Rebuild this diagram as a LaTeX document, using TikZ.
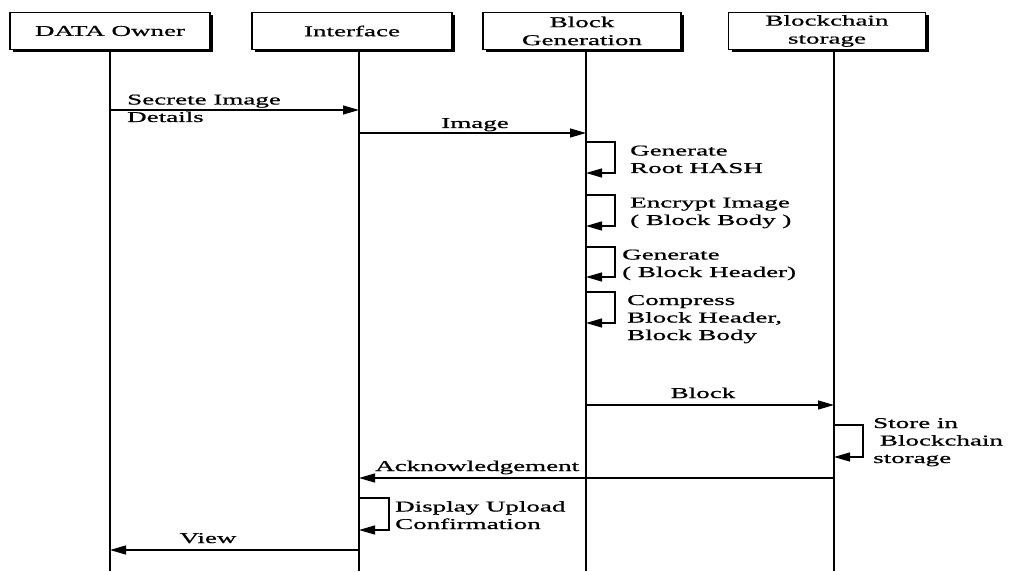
\documentclass[tikz,border=0pt]{standalone}
\usepackage{fontspec}
\setmainfont{Liberation Serif}[FakeStretch=1.8,FakeBold=0.8]
\usetikzlibrary{arrows.meta,shadows}
\begin{document}
\begin{tikzpicture}[x=1pt,y=-1pt,
  actor/.style={draw, line width=1.4pt, fill=white, minimum height=37pt,
    inner sep=0pt, align=center, font=\fontsize{15}{18}\selectfont,
    drop shadow={shadow xshift=3pt, shadow yshift=-3pt, opacity=1, fill=black}},
  life/.style={line width=2.2pt},
  msg/.style={line width=1.2pt, -{Triangle[length=16pt,width=9pt]}},
  lbl/.style={font=\fontsize{15}{17.5}\selectfont, inner sep=0pt, align=left},
]
\useasboundingbox[fill=white] (0,0) rectangle (1009,572);

% participants
\node[actor, minimum width=200pt] (b1) at (110,31) {DATA Owner};
\node[actor, minimum width=200pt] (b2) at (352,31) {Interface};
\node[actor, minimum width=198pt] (b3) at (582,31) {Block\\Generation};
\node[actor, minimum width=197pt] (b4) at (827,31) {Blockchain\\storage};

% lifelines
\coordinate (L1) at (110,571);
\coordinate (L2) at (359,571);
\coordinate (L3) at (586,571);
\coordinate (L4) at (834,571);
\draw[life] (b1.south -| L1) -- (L1);
\draw[life] (b2.south -| L2) -- (L2);
\draw[life] (b3.south -| L3) -- (L3);
\draw[life] (b4.south -| L4) -- (L4);

% message end points
\coordinate (m1s) at (110,110); \coordinate (m1e) at (359,110);
\coordinate (m2s) at (359,133); \coordinate (m2e) at (586,133);
\coordinate (m3s) at (586,405); \coordinate (m3e) at (834,405);
\coordinate (m4s) at (834,478); \coordinate (m4e) at (359,478);
\coordinate (m5s) at (359,550); \coordinate (m5e) at (110,550);

\draw[msg] (m1s) -- (m1e);
\draw[msg] (m2s) -- (m2e);
\draw[msg] (m3s) -- (m3e);
\draw[msg] (m4s) -- (m4e);
\draw[msg] (m5s) -- (m5e);

% labels are anchored at the baseline of their last line
\node[lbl, anchor=base west] (t1) at (127,122) {Secrete Image\\Details};
\node[lbl, anchor=base] (t2) at (475,128) {Image};
\node[lbl, anchor=base] (t3) at (703,398) {Block};
\node[lbl, anchor=base west] (t4) at (375,471) {Acknowledgement};
\node[lbl, anchor=base] (t5) at (208,543) {View};

% self calls
\coordinate (s1t) at (586,142); \coordinate (s1b) at (586,173);
\coordinate (s2t) at (586,195); \coordinate (s2b) at (586,226);
\coordinate (s3t) at (586,247); \coordinate (s3b) at (586,277);
\coordinate (s4t) at (586,292); \coordinate (s4b) at (586,323);
\coordinate (s5t) at (834,425); \coordinate (s5b) at (834,457);
\coordinate (s6t) at (359,498); \coordinate (s6b) at (359,530);

\draw[msg] (s1t) -- ++(29,0) |- (s1b);
\draw[msg] (s2t) -- ++(29,0) |- (s2b);
\draw[msg] (s3t) -- ++(29,0) |- (s3b);
\draw[msg] (s4t) -- ++(29,0) |- (s4b);
\draw[msg] (s5t) -- ++(29,0) |- (s5b);
\draw[msg] (s6t) -- ++(30,0) |- (s6b);

\node[lbl, anchor=base west] (u1) at (630,173) {Generate\\Root HASH};
\node[lbl, anchor=base west] (u2) at (630,225) {Encrypt Image\\( Block Body )};
\node[lbl, anchor=base west] (u3) at (622,277) {Generate\\( Block Header)};
\node[lbl, anchor=base west] (u4) at (627,340) {Compress\\Block Header,\\Block Body};
\node[lbl, anchor=base west] (u5) at (873,463) {Store in\\\ Blockchain\\storage};
\node[lbl, anchor=base west] (u6) at (395,529) {Display Upload\\Confirmation};
\end{tikzpicture}
\end{document}
